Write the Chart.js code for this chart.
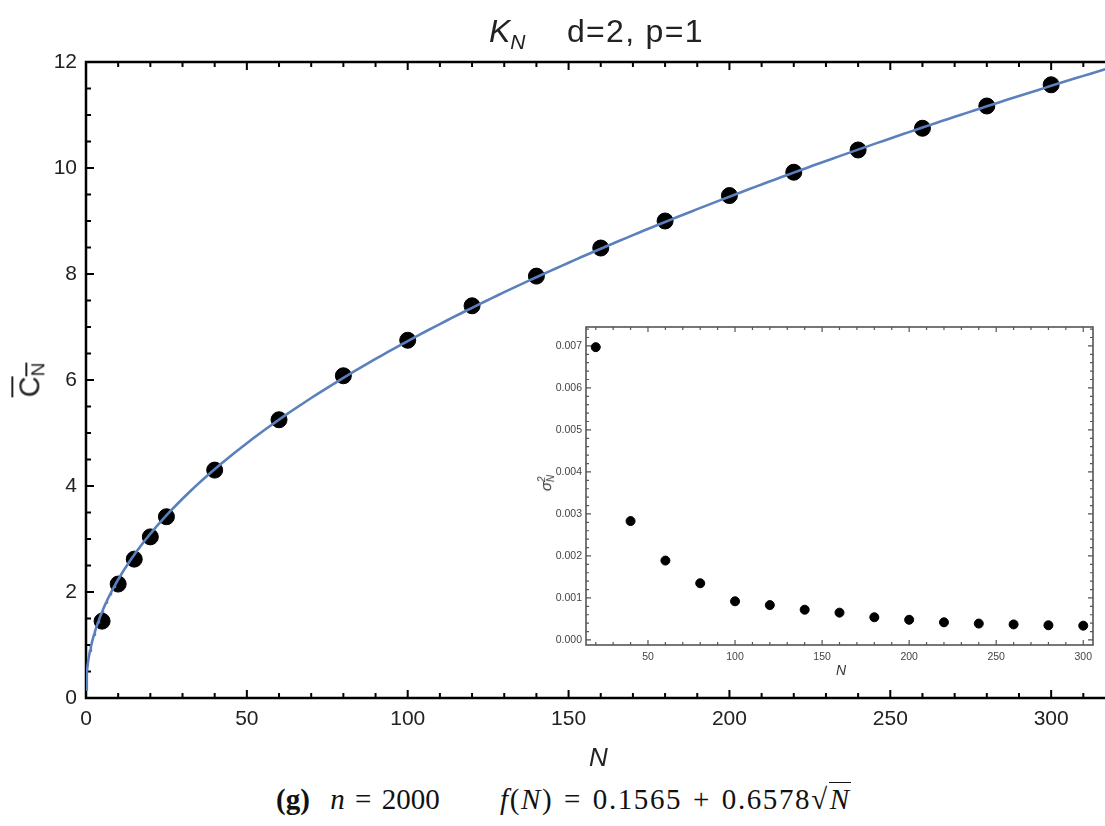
<!DOCTYPE html>
<html>
<head>
<meta charset="utf-8">
<script src="https://cdn.jsdelivr.net/npm/chart.js@4.4.1/dist/chart.umd.min.js"></script>
<style>
  body { margin: 0; width: 1105px; height: 826px; overflow: hidden; background: #fff; position: relative;
         font-family: "Liberation Sans", Arial, sans-serif; color: #222; }
  canvas { position: absolute; }
  #main { left: 0; top: 0; }
  #inset { left: 520px; top: 315px; }
  .lbl { position: absolute; white-space: nowrap; line-height: 1; }
  #titleK { left: 489px; top: 15px; font-size: 32px; font-style: italic; }
  #titleK sub { font-size: 21px; vertical-align: -7px; }
  #titleD { left: 567px; top: 15px; font-size: 32px; letter-spacing: 1.3px; }
  #xlab { left: 589px; top: 744px; font-size: 26px; font-style: italic; }
  #ylab { left: 14px; top: 364px; font-size: 29px; transform: rotate(-90deg); transform-origin: center; }
  #ylab span { text-decoration: overline; }
  #ylab sub { font-size: 19px; vertical-align: -5px; }
  #inxlab { left: 836px; top: 663px; font-size: 14px; font-style: italic; color: #333; }
  #inylab { left: 538px; top: 474px; font-size: 15px; color: #333; transform: rotate(-90deg); font-style: italic; }
  #inylab .s { display: inline-block; vertical-align: -3px; line-height: 9px; font-size: 10px; text-align: left; }
  .cap { top: 785px; font-family: "Liberation Serif", "DejaVu Serif", serif; font-size: 29px; color: #111; }
  #cap1 { left: 276px; word-spacing: 3px; }
  #cap2 { left: 500px; letter-spacing: 1.6px; word-spacing: 2px; }
  #cap2 .rad { border-top: 1.5px solid #111; padding-left: 1px; }
</style>
</head>
<body>
<canvas id="main" width="1120" height="760"></canvas>
<canvas id="inset" width="585" height="375"></canvas>

<div class="lbl" id="titleK">K<sub>N</sub></div>
<div class="lbl" id="titleD">d=2, p=1</div>
<div class="lbl" id="xlab">N</div>
<div class="lbl" id="ylab"><span>C<sub>N</sub></span></div>
<div class="lbl" id="inxlab">N</div>
<div class="lbl" id="inylab">σ<span class="s">2<br>N</span></div>
<div class="lbl cap" id="cap1"><b>(g)</b>&nbsp; <i>n</i> = 2000</div>
<div class="lbl cap" id="cap2"><i>f</i>(<i>N</i>) = 0.1565 + 0.6578√<span class="rad"><i>N</i></span></div>

<script>
// mean component count per system size
const sizeN = [5, 10, 15, 20, 25, 40, 60, 80, 100, 120, 140, 160, 180, 200, 220, 240, 260, 280, 300];
const meanC = [1.45, 2.15, 2.62, 3.04, 3.42, 4.30, 5.25, 6.08, 6.75, 7.40, 7.96, 8.49, 9.00, 9.48, 9.92, 10.34, 10.75, 11.17, 11.57];

// variance (inset)
const varN = [20, 40, 60, 80, 100, 120, 140, 160, 180, 200, 220, 240, 260, 280, 300];
const varC = [0.00697, 0.00283, 0.00189, 0.00135, 0.00092, 0.00083, 0.00072, 0.00065, 0.00054, 0.00048, 0.00042, 0.00039, 0.00037, 0.00035, 0.00034];

// fitted curve f(N) = a + b*sqrt(N)
const fitA = 0.1565, fitB = 0.6578;

const mainXTicks = [0, 50, 100, 150, 200, 250, 300];
const mainYTicks = [0, 2, 4, 6, 8, 10, 12];
const insetXTicks = [50, 100, 150, 200, 250, 300];
const insetYTicks = [0, 0.001, 0.002, 0.003, 0.004, 0.005, 0.006, 0.007];

const fitCurve = [];
for (let n = 0; n <= 322; n += (n < 10 ? 0.25 : 2)) fitCurve.push({ x: n, y: fitA + fitB * Math.sqrt(n) });

// frame with inward tick marks on all four sides
const framePlugin = {
  id: 'frame',
  beforeDatasetsDraw(chart, args, o) {
    const { ctx, chartArea: a, scales: { x, y } } = chart;
    ctx.save();
    ctx.strokeStyle = o.color;
    ctx.lineWidth = o.width;
    ctx.strokeRect(a.left, a.top, a.right - a.left, a.bottom - a.top);
    ctx.lineWidth = o.tickWidth;
    const mark = (v, isX) => {
      const m = o.major[isX ? 0 : 1];
      const len = Math.abs(v / m - Math.round(v / m)) < 1e-6 ? o.majorLen : o.minorLen;
      ctx.beginPath();
      if (isX) {
        const px = x.getPixelForValue(v);
        ctx.moveTo(px, a.bottom); ctx.lineTo(px, a.bottom - len);
        ctx.moveTo(px, a.top); ctx.lineTo(px, a.top + len);
      } else {
        const py = y.getPixelForValue(v);
        ctx.moveTo(a.left, py); ctx.lineTo(a.left + len, py);
        ctx.moveTo(a.right, py); ctx.lineTo(a.right - len, py);
      }
      ctx.stroke();
    };
    const sx = o.minor[0], sy = o.minor[1];
    for (let v = Math.ceil(x.min / sx) * sx; v <= x.max + 1e-9; v += sx) mark(+v.toFixed(6), true);
    for (let v = Math.ceil(y.min / sy) * sy; v <= y.max + 1e-9; v += sy) mark(+v.toFixed(6), false);
    ctx.restore();
  }
};

const noGrid = { display: false, drawTicks: false, tickLength: 0 };

new Chart(document.getElementById('main'), {
  type: 'scatter',
  data: {
    datasets: [{
      type: 'line',
      data: fitCurve,
      borderColor: '#5b80bd',
      borderWidth: 2.6,
      pointRadius: 0,
      tension: 0
    }, {
      data: sizeN.map((n, i) => ({ x: n, y: meanC[i] })),
      backgroundColor: '#000',
      borderColor: '#000',
      pointRadius: 8,
      pointHoverRadius: 8
    }]
  },
  options: {
    responsive: false,
    animation: false,
    layout: { autoPadding: false, padding: { top: 62, right: 0, left: 0, bottom: 0 } },
    plugins: {
      legend: { display: false },
      tooltip: { enabled: false },
      frame: { color: '#000', width: 2.5, tickWidth: 2, major: [50, 2], minor: [10, 0.5], majorLen: 8, minorLen: 5 }
    },
    scales: {
      x: {
        type: 'linear', min: 0, max: 321.4,
        grid: noGrid, border: { display: false },
        afterBuildTicks: s => { s.ticks = mainXTicks.map(v => ({ value: v })); },
        afterFit: s => { s.height = 62; },
        ticks: { font: { size: 21, family: '"Liberation Sans", Arial' }, color: '#222', padding: 9, maxRotation: 0 }
      },
      y: {
        min: 0, max: 12,
        grid: noGrid, border: { display: false },
        afterBuildTicks: s => { s.ticks = mainYTicks.map(v => ({ value: v })); },
        afterFit: s => { s.width = 86; },
        ticks: { font: { size: 21, family: '"Liberation Sans", Arial' }, color: '#222', padding: 9 }
      }
    }
  },
  plugins: [framePlugin]
});

new Chart(document.getElementById('inset'), {
  type: 'scatter',
  data: {
    datasets: [{
      data: varN.map((n, i) => ({ x: n, y: varC[i] })),
      backgroundColor: '#000',
      borderColor: '#000',
      pointRadius: 4.5,
      pointHoverRadius: 4.5
    }]
  },
  options: {
    responsive: false,
    animation: false,
    layout: { autoPadding: false, padding: { top: 12, right: 12, left: 0, bottom: 0 } },
    plugins: {
      legend: { display: false },
      tooltip: { enabled: false },
      frame: { color: '#555', width: 1.6, tickWidth: 1.2, major: [50, 0.001], minor: [10, 0.0002], majorLen: 5, minorLen: 3 }
    },
    scales: {
      x: {
        type: 'linear', min: 14.4, max: 305.6,
        grid: noGrid, border: { display: false },
        afterBuildTicks: s => { s.ticks = insetXTicks.map(v => ({ value: v })); },
        afterFit: s => { s.height = 45; },
        ticks: { font: { size: 10.5, family: '"Liberation Sans", Arial' }, color: '#444', padding: 6, maxRotation: 0 }
      },
      y: {
        min: -0.00012, max: 0.00745,
        grid: noGrid, border: { display: false },
        afterBuildTicks: s => { s.ticks = insetYTicks.map(v => ({ value: v })); },
        afterFit: s => { s.width = 66; },
        ticks: { font: { size: 10.5, family: '"Liberation Sans", Arial' }, color: '#444', padding: 4,
                 callback: v => v.toFixed(3) }
      }
    }
  },
  plugins: [framePlugin]
});
</script>
</body>
</html>
